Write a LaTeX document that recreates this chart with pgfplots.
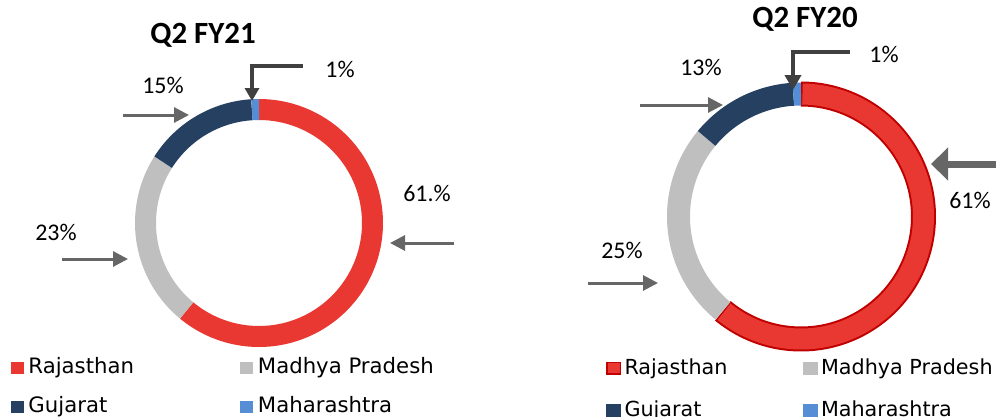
\documentclass[border=0pt]{standalone}
\usepackage{pgfplots}
\pgfplotsset{compat=1.18}
\usepgfplotslibrary{polar}
\usetikzlibrary{arrows.meta}
\usepackage{fontspec}
\setmainfont{Carlito}
\newfontfamily\legfont{DejaVu Sans}
\definecolor{raj}{RGB}{233,56,50}
\definecolor{rajedge}{RGB}{192,0,0}
\definecolor{mp}{RGB}{191,191,191}
\definecolor{guj}{RGB}{38,64,97}
\definecolor{mah}{RGB}{85,142,213}
\definecolor{arr}{RGB}{102,102,102}
\definecolor{darr}{RGB}{64,64,64}
% shares (%), Q2 FY21 and Q2 FY20
\def\rajA{61}\def\mpA{23}\def\gujA{15}\def\mahA{1}
\def\rajB{61}\def\mpB{25}\def\gujB{13}\def\mahB{1}
\newcommand\legA[1]{\hspace*{-11bp}\makebox[212bp][l]{#1}}
\newcommand\legAA[1]{\hspace*{-11bp}#1}
\newcommand\legB[1]{\hspace*{-12bp}\makebox[178bp][l]{#1}}
\newcommand\legBB[1]{\hspace*{-12bp}#1}
\begin{document}
\begin{tikzpicture}
\useasboundingbox (0bp,0bp) rectangle (996bp,-417bp);
\pgfmathsetmacro\aA{90-3.6*\rajA}
\pgfmathsetmacro\bA{\aA-3.6*\mpA}
\pgfmathsetmacro\cA{\bA-3.6*\gujA}
\pgfmathsetmacro\dA{\cA-3.6*\mahA}
\pgfmathsetmacro\aB{90-3.6*\rajB}
\pgfmathsetmacro\bB{\aB-3.6*\mpB}
\pgfmathsetmacro\cB{\bB-3.6*\gujB}
\pgfmathsetmacro\dB{\cB-3.6*\mahB}
\pgfmathsetmacro\aBi{\aB+0.7}
% ---------- left donut ----------
\begin{polaraxis}[at={(259bp,-223bp)}, anchor=center, scale only axis,
  width=248bp, height=248bp, ymin=0, ymax=124, hide axis, clip=false,
  legend columns=2, legend cell align=left,
  legend style={at={(-0.5,-0.0403)}, anchor=north west, draw=none, fill=none,
    inner sep=0pt, outer sep=0pt, column sep=0pt, row sep=17.5bp,
    font=\legfont\fontsize{21.3}{25}\selectfont,
    nodes={inner sep=0pt, text height=16bp, text depth=5.5bp}},
  legend image code/.code={\fill[#1, draw=none, line width=0pt] (0bp,-6bp) rectangle (13bp,6bp); \path (18bp,0bp);}]
\addplot[raj, line width=21bp, domain=\aA:90, samples=120] {113.5};
\addlegendentry{\legA{Rajasthan}}
\addplot[mp, line width=21bp, domain=\bA:\aA, samples=60] {113.5};
\addlegendentry{\legAA{Madhya Pradesh}}
\addplot[guj, line width=21bp, domain=\cA:\bA, samples=40] {113.5};
\addlegendentry{\legA{Gujarat}}
\addplot[mah, line width=21bp, domain=\dA:\cA, samples=5] {113.5};
\addlegendentry{\legAA{Maharashtra}}
\end{polaraxis}
% ---------- right donut ----------
\begin{polaraxis}[at={(801bp,-216.5bp)}, anchor=center, scale only axis,
  width=268bp, height=268bp, ymin=0, ymax=134, hide axis, clip=false,
  legend columns=2, legend cell align=left,
  legend style={at={(-0.2276,-0.028)}, anchor=north west, draw=none, fill=none,
    inner sep=0pt, outer sep=0pt, column sep=0pt, row sep=19bp,
    font=\legfont\fontsize{20.8}{25}\selectfont,
    nodes={inner sep=0pt, text height=15.5bp, text depth=5.5bp}},
  legend image code/.code={\fill[#1, draw=none, line width=0pt] (0bp,-5bp) rectangle (15bp,8bp); \path (19bp,0bp);}]
\addplot[rajedge, line width=25bp, domain=\aB:90, samples=120, forget plot] {122.5};
\addplot[raj, line width=21bp, domain=\aBi:89.3, samples=120,
  legend image code/.code={\filldraw[fill=raj, draw=rajedge, line width=1.5bp] (0.75bp,-4.25bp) rectangle (14.25bp,7.25bp); \path (19bp,0bp);}] {122.5};
\addlegendentry{\legB{Rajasthan}}
\addplot[mp, line width=23bp, domain=\bB:\aB, samples=60] {122.5};
\addlegendentry{\legBB{Madhya Pradesh}}
\addplot[guj, line width=23bp, domain=\cB:\bB, samples=40] {122.5};
\addlegendentry{\legB{Gujarat}}
\addplot[mah, line width=23bp, domain=\dB:\cB, samples=5] {122.5};
\addlegendentry{\legBB{Maharashtra}}
\end{polaraxis}
% ---------- titles ----------
\node[font=\bfseries\fontsize{31}{36}\selectfont] at (203bp,-35bp) {Q2 FY21};
\node[font=\bfseries\fontsize{31}{36}\selectfont] at (805bp,-19bp) {Q2 FY20};
% ---------- labels ----------
\begin{scope}[every node/.style={font=\fontsize{24}{28}\selectfont}]
\node at (340bp,-69bp) {1\%};
\node at (163bp,-85bp) {15\%};
\node at (427bp,-193bp) {61.\%};
\node at (56bp,-232bp) {23\%};
\node at (884bp,-54bp) {1\%};
\node at (701bp,-67bp) {13\%};
\node at (970bp,-200bp) {61\%};
\node at (622bp,-250bp) {25\%};
\end{scope}
% ---------- arrows ----------
\begin{scope}[arr, line width=3bp, -{Triangle[length=15bp,width=15bp]}]
\draw (123bp,-115bp) -- (189bp,-115bp);
\draw (62bp,-259bp) -- (128bp,-259bp);
\draw (454bp,-243bp) -- (390bp,-243bp);
\draw (640bp,-105bp) -- (723bp,-105bp);
\draw (588bp,-283bp) -- (658bp,-283bp);
\end{scope}
\draw[arr, line width=7bp, -{Triangle[length=17bp,width=32bp]}] (1000bp,-164bp) -- (931bp,-164bp);
\draw[darr, line width=4bp, -{Triangle[length=13bp,width=14bp]}] (303bp,-66bp) -- (252bp,-66bp) -- (252bp,-101bp);
\draw[darr, line width=4bp, -{Triangle[length=15bp,width=16bp]}] (850bp,-52bp) -- (793bp,-52bp) -- (793bp,-90bp);
\end{tikzpicture}
\end{document}
